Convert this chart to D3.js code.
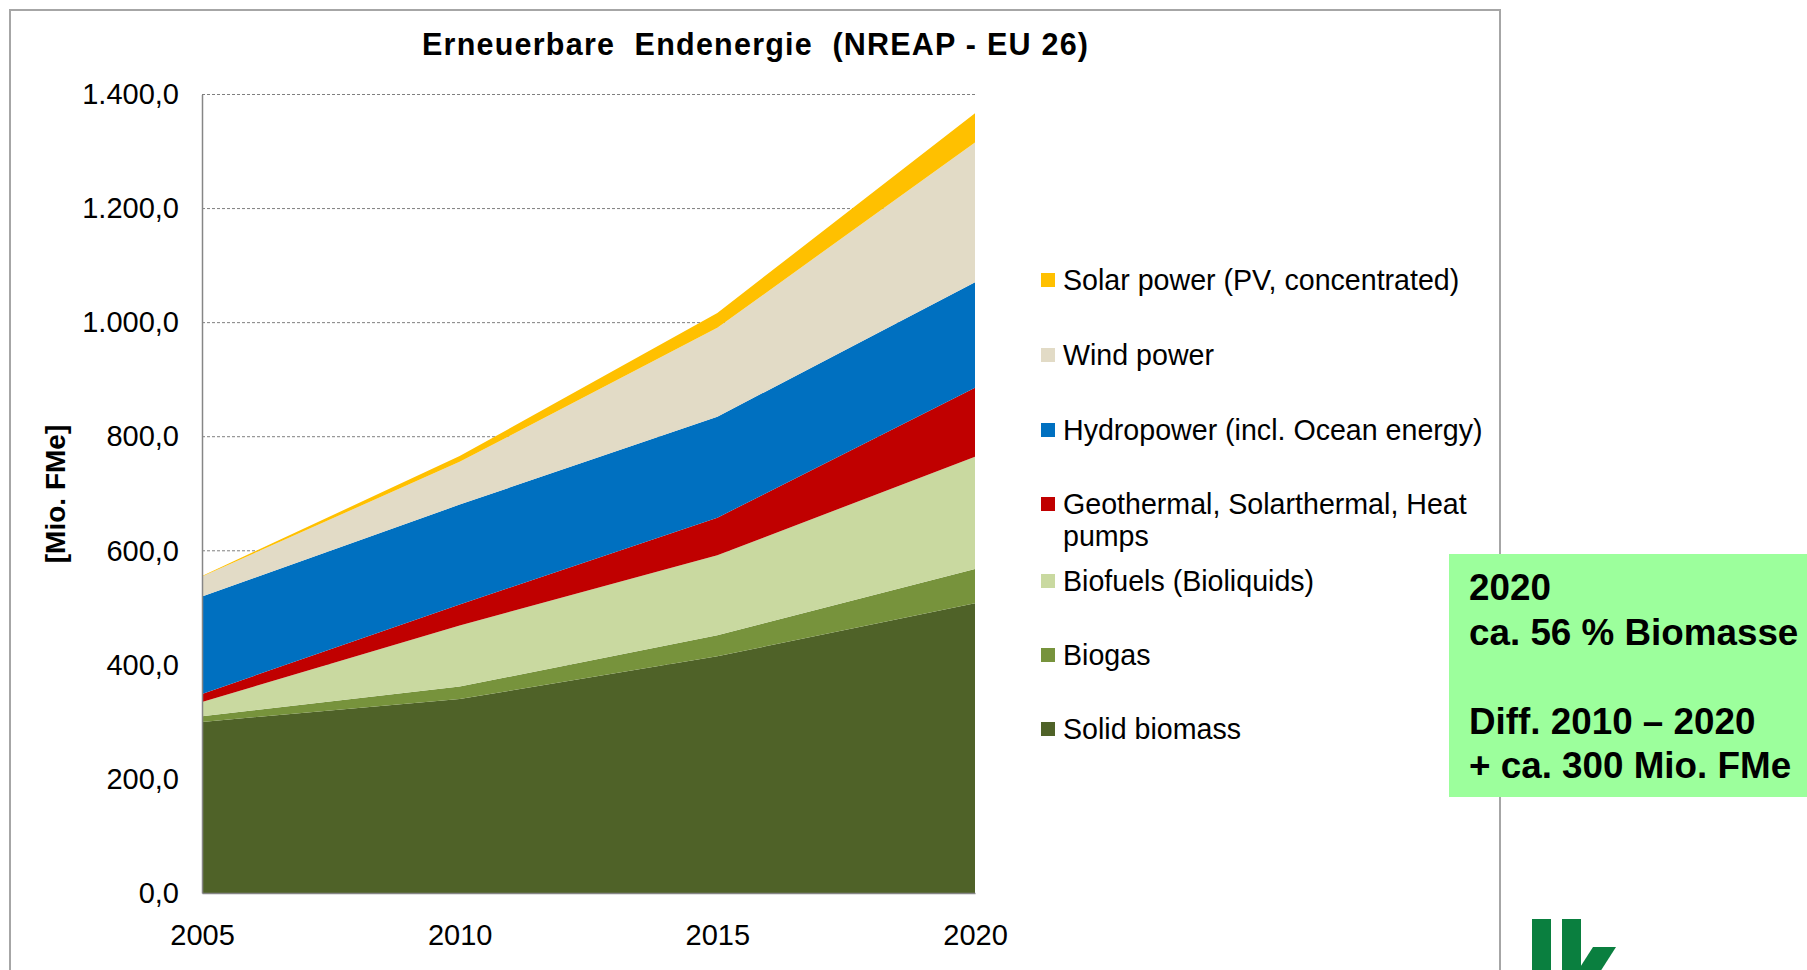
<!DOCTYPE html>
<html>
<head>
<meta charset="utf-8">
<script src="https://d3js.org/d3.v7.min.js"></script>
<style>
  body { margin: 0; background: #fff; }
  svg { display: block; font-family: Arial, "Liberation Sans", sans-serif; }
</style>
</head>
<body>
<svg width="1807" height="970"></svg>
<script>
// Years on the x axis
var years = [2005, 2010, 2015, 2020];

// Series values in Mio. FMe
var solidBiomass = [300, 340, 415, 508];
var biogas       = [10, 22, 37, 60];
var biofuels     = [25, 107, 140, 197];
var geothermal   = [14, 37, 66, 121];
var hydropower   = [171, 175, 177, 185];
var windPower    = [35, 75, 156, 245];
var solarPower   = [1, 10, 26, 51];

var yTicks = [0, 200, 400, 600, 800, 1000, 1200, 1400];

// Stack order bottom -> top
var seriesKeys = ["solid", "biogas", "biofuels", "geo", "hydro", "wind", "solar"];
var seriesValues = {
  solid: solidBiomass, biogas: biogas, biofuels: biofuels, geo: geothermal,
  hydro: hydropower, wind: windPower, solar: solarPower
};
var colors = {
  solid: "#4f6228", biogas: "#77933c", biofuels: "#c9d9a0", geo: "#c00000",
  hydro: "#0070c0", wind: "#e2dbc6", solar: "#ffc000"
};

// Legend top -> bottom
var legendKeys = ["solar", "wind", "hydro", "geo", "biofuels", "biogas", "solid"];
var legendLabels = {
  solar: ["Solar power (PV, concentrated)"],
  wind: ["Wind power"],
  hydro: ["Hydropower (incl. Ocean energy)"],
  geo: ["Geothermal, Solarthermal, Heat", "pumps"],
  biofuels: ["Biofuels (Bioliquids)"],
  biogas: ["Biogas"],
  solid: ["Solid biomass"]
};
var legendBaselines = [290, 365, 440, 514, 591, 665, 739];

var noteLines = ["2020", "ca. 56 % Biomasse", "", "Diff. 2010 \u2013 2020", "+ ca. 300 Mio. FMe"];

var svg = d3.select("svg");

// Outer chart frame
svg.append("rect")
    .attr("x", 10).attr("y", 10)
    .attr("width", 1490).attr("height", 1000)
    .attr("fill", "none")
    .attr("stroke", "#a6a6a6")
    .attr("stroke-width", 2);

var x = d3.scaleLinear().domain([2005, 2020]).range([202, 975]);
var y = d3.scaleLinear().domain([0, 1400]).range([893, 94.5]);

// Gridlines
svg.append("g")
  .selectAll("line")
  .data(yTicks.filter(function(d) { return d > 0; }))
  .enter().append("line")
    .attr("x1", x(2005)).attr("x2", x(2020))
    .attr("y1", function(d) { return y(d); })
    .attr("y2", function(d) { return y(d); })
    .attr("stroke", "#7f7f7f")
    .attr("stroke-width", 1)
    .attr("stroke-dasharray", "3,2");

var table = years.map(function(yr, i) {
  var row = { year: yr };
  seriesKeys.forEach(function(k) { row[k] = seriesValues[k][i]; });
  return row;
});

var stack = d3.stack().keys(seriesKeys);
var layers = stack(table);

var area = d3.area()
    .x(function(d) { return x(d.data.year); })
    .y0(function(d) { return y(d[0]); })
    .y1(function(d) { return y(d[1]); });

svg.append("g")
  .selectAll("path")
  .data(layers)
  .enter().append("path")
    .attr("d", area)
    .attr("fill", function(d) { return colors[d.key]; });

// Axis lines
var yAxis = d3.axisLeft(y)
    .tickValues(yTicks)
    .tickSize(0)
    .tickPadding(23)
    .tickFormat(function(d) { return d3.format(",.1f")(d).replace(/,/g, "#").replace(".", ",").replace(/#/g, "."); });

var gy = svg.append("g")
    .attr("transform", "translate(" + x(2005) + ",0)")
    .call(yAxis);
gy.select(".domain").attr("stroke", "#868686").attr("stroke-width", 1.5);
gy.selectAll("text")
    .attr("font-size", 29)
    .attr("fill", "#000")
    .attr("font-family", "Arial, 'Liberation Sans', sans-serif");

var xAxis = d3.axisBottom(x)
    .tickValues(years)
    .tickSize(0)
    .tickPadding(31)
    .tickFormat(d3.format("d"));

var gx = svg.append("g")
    .attr("transform", "translate(0," + y(0) + ")")
    .call(xAxis);
gx.select(".domain").attr("stroke", "#868686").attr("stroke-width", 1.5);
gx.selectAll("text")
    .attr("font-size", 29)
    .attr("fill", "#000")
    .attr("font-family", "Arial, 'Liberation Sans', sans-serif");

// Title
svg.append("text")
    .attr("x", 422).attr("y", 55)
    .attr("font-size", 30.5)
    .attr("font-weight", "bold")
    .attr("textLength", 666)
    .attr("lengthAdjust", "spacing")
    .style("white-space", "pre")
    .text("Erneuerbare  Endenergie  (NREAP - EU 26)");

// Y axis label
svg.append("text")
    .attr("transform", "translate(65,494) rotate(-90)")
    .attr("text-anchor", "middle")
    .attr("font-size", 28)
    .attr("font-weight", "bold")
    .text("[Mio. FMe]");

// Legend
var legend = svg.append("g")
  .selectAll("g")
  .data(legendKeys)
  .enter().append("g")
    .attr("transform", function(d, i) { return "translate(0," + legendBaselines[i] + ")"; });

legend.append("rect")
    .attr("x", 1041).attr("y", -17)
    .attr("width", 14).attr("height", 14)
    .attr("fill", function(d) { return colors[d]; });

legend.each(function(d) {
  var g = d3.select(this);
  legendLabels[d].forEach(function(line, j) {
    g.append("text")
        .attr("x", 1063).attr("y", j * 32)
        .attr("font-size", 28.6)
        .text(line);
  });
});

// Green note box
svg.append("rect")
    .attr("x", 1449).attr("y", 554)
    .attr("width", 370).attr("height", 243)
    .attr("fill", "#9cff9c");

svg.append("g")
  .selectAll("text")
  .data(noteLines)
  .enter().append("text")
    .attr("x", 1469)
    .attr("y", function(d, i) { return 600 + i * 44.5; })
    .attr("font-size", 36.8)
    .attr("font-weight", "bold")
    .text(function(d) { return d; });

// Logo fragment bottom right
var logo = svg.append("g").attr("fill", "#0a7f3f");
logo.append("rect").attr("x", 1532).attr("y", 919).attr("width", 19).attr("height", 60);
logo.append("rect").attr("x", 1562).attr("y", 919).attr("width", 19).attr("height", 60);
logo.append("polygon").attr("points", "1593,947 1616,947 1600,972 1577,972");
</script>
</body>
</html>
